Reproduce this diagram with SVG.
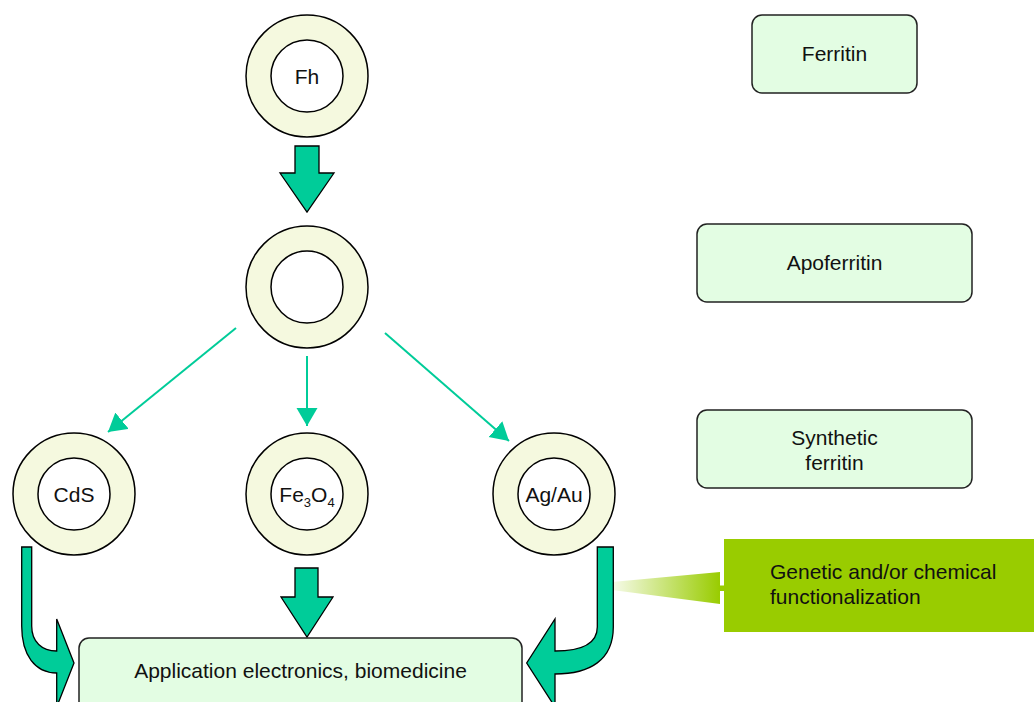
<svg xmlns="http://www.w3.org/2000/svg" width="1034" height="702" viewBox="0 0 1034 702">
<style>
text{font-family:"Liberation Sans",Arial,sans-serif;font-size:21px;fill:#111}
.outer{fill:#F5F9DF;stroke:#000;stroke-width:1.5}
.inner{fill:#fff;stroke:#000;stroke-width:1.5}
.box{fill:#E3FDE3;stroke:#222;stroke-width:1.5}
.blk{fill:#00CC99;stroke:#000;stroke-width:1.3;stroke-linejoin:miter}
.thin{stroke:#00CC99;stroke-width:2;fill:none;marker-end:url(#ah)}
</style>
<defs>
<marker id="ah" markerUnits="userSpaceOnUse" markerWidth="20" markerHeight="22" refX="18" refY="10.5" orient="auto">
<path d="M0,0 L18,10.5 L0,21 z" fill="#00CC99"/>
</marker>
<linearGradient id="wg" x1="0" y1="0" x2="1" y2="0">
<stop offset="0" stop-color="#99CC00" stop-opacity="0.08"/>
<stop offset="1" stop-color="#99CC00" stop-opacity="1"/>
</linearGradient>
</defs>
<rect width="1034" height="702" fill="#fff"/>

<g id="connectors">
<polygon class="blk" points="295,146 319,146 319,173 334,173 307,212 280,173 295,173"/>
<line class="thin" x1="236" y1="328" x2="108" y2="432"/>
<line class="thin" x1="307" y1="356" x2="307" y2="426"/>
<line class="thin" x1="385" y1="333" x2="509" y2="441"/>
<polygon class="blk" points="295,568 318,568 318,597 333,597 307,637 281,597 295,597"/>
<path class="blk" d="M21.7,547 L31.7,547 L31.7,626 C31.7,642 42,651 56.7,651 L56.7,619 L74,663 L56.7,707 L56.7,673 C35,673 21.7,655 21.7,626 Z"/>
<polygon points="612,582 720,572 720,604 612,590" fill="url(#wg)"/>
<rect x="719" y="585.5" width="6" height="5.5" fill="#99CC00"/>
<path class="blk" d="M613.3,547 L597.3,547 L597.3,627 C597.3,642 585,651 555,651 L555,619 L526.7,663 L555,707 L555,674 C590,674 613.3,660 613.3,627 Z"/>
</g>

<g id="node-fh">
<circle class="outer" cx="307" cy="76" r="61"/>
<circle class="inner" cx="307" cy="76" r="36"/>
<text x="307" y="83.5" text-anchor="middle">Fh</text>
</g>
<g id="node-apo">
<circle class="outer" cx="307" cy="287" r="61"/>
<circle class="inner" cx="307" cy="287" r="36"/>
</g>
<g id="node-cds">
<circle class="outer" cx="74" cy="494" r="61"/>
<circle class="inner" cx="74" cy="494" r="36"/>
<text x="74" y="501.5" text-anchor="middle">CdS</text>
</g>
<g id="node-fe3o4">
<circle class="outer" cx="307" cy="494" r="61"/>
<circle class="inner" cx="307" cy="494" r="36"/>
<text x="307" y="501.5" text-anchor="middle">Fe<tspan font-size="13" dy="5">3</tspan><tspan dy="-5">O</tspan><tspan font-size="13" dy="5">4</tspan></text>
</g>
<g id="node-agau">
<circle class="outer" cx="554" cy="494" r="61"/>
<circle class="inner" cx="554" cy="494" r="36"/>
<text x="554" y="501.5" text-anchor="middle">Ag/Au</text>
</g>

<g id="label-ferritin">
<rect class="box" x="752" y="15" width="165" height="78" rx="10"/>
<text x="834.5" y="61" text-anchor="middle">Ferritin</text>
</g>
<g id="label-apoferritin">
<rect class="box" x="697" y="224" width="275" height="78" rx="10"/>
<text x="834.5" y="270" text-anchor="middle">Apoferritin</text>
</g>
<g id="label-synthetic">
<rect class="box" x="697" y="410" width="275" height="78" rx="10"/>
<text x="834.5" y="445" text-anchor="middle">Synthetic</text>
<text x="834.5" y="470" text-anchor="middle">ferritin</text>
</g>
<g id="label-functionalization">
<rect x="724" y="539" width="320" height="93" fill="#99CC00"/>
<text x="770" y="579">Genetic and/or chemical</text>
<text x="770" y="604">functionalization</text>
</g>
<g id="node-application">
<rect class="box" x="79" y="638" width="443" height="90" rx="10"/>
<text x="300.5" y="677.5" text-anchor="middle">Application electronics, biomedicine</text>
</g>
</svg>
